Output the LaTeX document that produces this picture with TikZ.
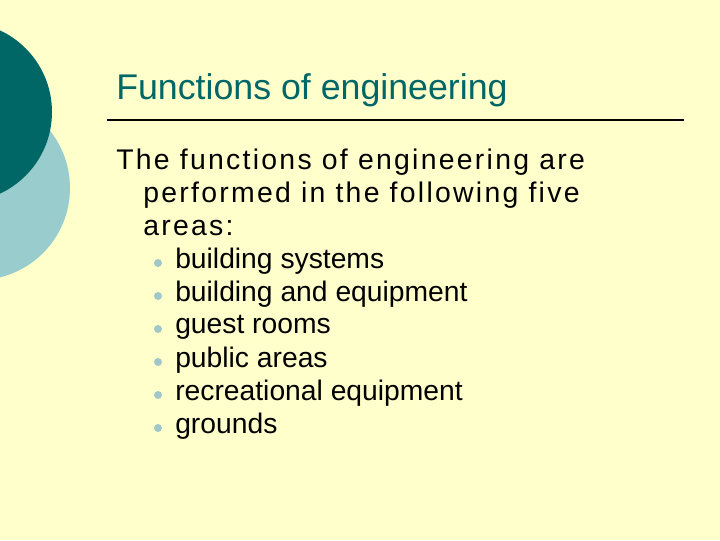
\documentclass[tikz,border=0pt]{standalone}
\usepackage{fontspec}
\setmainfont{Liberation Sans}
\definecolor{bg}{HTML}{FFFFCC}
\definecolor{teal}{HTML}{006666}
\definecolor{lblue}{HTML}{99CCCC}
\definecolor{bul}{HTML}{A0C8C8}
\begin{document}
\begin{tikzpicture}[x=0.75pt,y=-0.75pt,
  body/.style={anchor=west,inner sep=0pt,font=\fontsize{21.3}{24}\selectfont\addfontfeatures{LetterSpace=8}},
  item/.style={anchor=west,inner sep=0pt,font=\fontsize{21.2}{24}\selectfont},
  dot/.style={circle,fill=bul,inner sep=0pt,minimum size=6pt}]
\fill[bg] (0,0) rectangle (720,540);
\useasboundingbox (0,0) rectangle (720,540);
\fill[lblue] (-22,188) circle (92);
\fill[teal] (-38,112) circle (90);
\node[anchor=west,inner sep=0pt,text=teal,font=\fontsize{26.8}{30}\selectfont] (t) at (116,90) {Functions of engineering};
\coordinate (l1) at (107,120); \coordinate (l2) at (684,120);
\draw[line width=1.2pt] (l1) -- (l2);
\node[body] (b1) at (116,162) {The functions of engineering are};
\node[body] (b2) at (143,195) {performed in the following five};
\node[body] (b3) at (143,228) {areas:};
\foreach \t [count=\i] in {building systems,building and equipment,guest rooms,public areas,recreational equipment,grounds}{
  \node[dot] (d\i) at (158,{263+33*(\i-1)}) {};
  \node[item] (i\i) at (175,{261+33*(\i-1)}) {\t};
}
\end{tikzpicture}
\end{document}
